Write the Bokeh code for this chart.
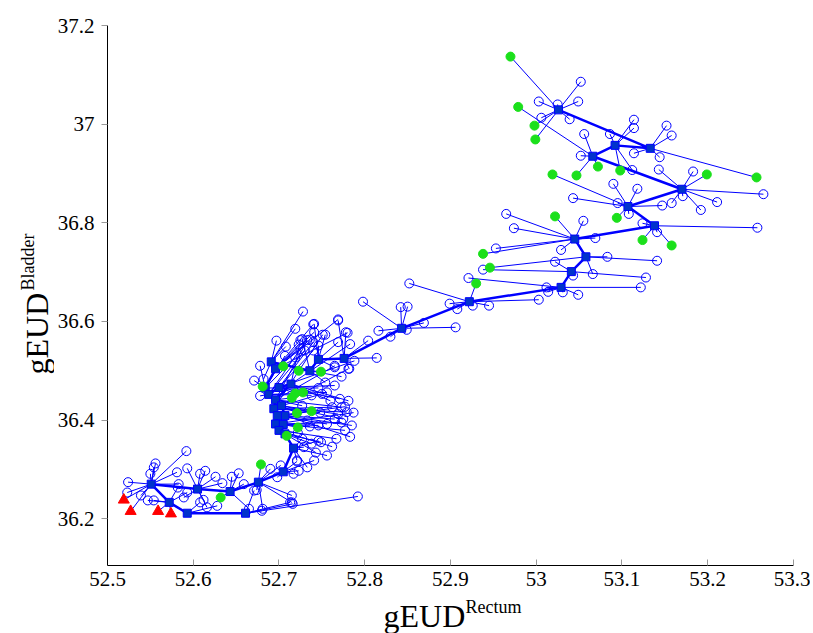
import math
from bokeh.plotting import figure
from bokeh.models import FixedTicker, Label
from bokeh.layouts import row, column
from bokeh.embed import file_html
from bokeh.resources import INLINE

# ---------------- data ----------------
x_ticks = [52.5, 52.6, 52.7, 52.8, 52.9, 53.0, 53.1, 53.2, 53.3]
x_tick_labels = ["52.5", "52.6", "52.7", "52.8", "52.9", "53", "53.1", "53.2", "53.3"]
y_ticks = [36.2, 36.4, 36.6, 36.8, 37.0, 37.2]
y_tick_labels = ["36.2", "36.4", "36.6", "36.8", "37", "37.2"]

# main path (filled squares)
path_x = [53.026, 53.133, 53.092, 53.066, 53.170, 53.107, 53.138, 53.045, 53.058, 53.041,
          53.029, 52.922, 52.843, 52.776, 52.746, 52.736, 52.691, 52.696, 52.684, 52.688,
          52.700, 52.714, 52.696, 52.694, 52.703, 52.707, 52.698, 52.696, 52.705, 52.700,
          52.707, 52.717, 52.705, 52.676, 52.643, 52.605, 52.551, 52.572, 52.593, 52.661]
path_y = [37.029, 36.951, 36.957, 36.935, 36.868, 36.833, 36.794, 36.767, 36.731, 36.701,
          36.669, 36.640, 36.586, 36.525, 36.523, 36.500, 36.518, 36.504, 36.465, 36.452,
          36.466, 36.473, 36.441, 36.423, 36.429, 36.409, 36.409, 36.392, 36.391, 36.379,
          36.372, 36.343, 36.295, 36.274, 36.255, 36.260, 36.270, 36.233, 36.211, 36.211]

# open candidate points (node index they hang from)
open_node = [0, 0, 0, 0, 0, 0,
             1, 1, 1, 1,
             2, 2, 2, 2,
             3, 3,
             4, 4, 4, 4, 4, 4, 4,
             5, 5, 5, 5, 5, 5,
             6, 6, 6,
             7, 7, 7, 7, 7, 7,
             8, 8, 8,
             9, 9, 9, 9,
             10, 10, 10, 10, 10, 10,
             11, 11, 11, 11, 11, 11,
             12, 12, 12, 12, 12, 12, 12, 12,
             13, 13, 13, 13, 13,
             14, 14, 14, 14, 14,
             15, 15, 15,
             16, 16, 16, 16, 16,
             17, 17, 17, 17, 17, 17,
             18, 18, 18, 18, 18,
             19, 19, 19, 19, 19,
             20, 20, 20, 20, 20,
             21, 21, 21, 21,
             22, 22, 22, 22,
             23, 23, 23, 23, 23,
             24, 24, 24,
             25, 25, 25,
             26, 26, 26,
             27, 27, 27,
             28, 28,
             29, 29, 29,
             30, 30, 30,
             31, 31, 31, 31, 31, 31,
             32, 32, 32, 32, 32,
             33, 33, 33, 33, 33, 33,
             34, 34, 34, 34,
             35, 35, 35, 35, 35, 35, 35, 35,
             36, 36, 36, 36, 36, 36, 36, 36, 36,
             37, 37, 37, 37,
             38, 38,
             39, 39, 39, 39, 39]
open_x = [53.052, 53.049, 53.003, 53.025, 53.006, 53.039,
          53.152, 53.158, 53.144, 53.114,
          53.114, 53.114, 53.086, 53.112,
          53.056, 53.052,
          53.183, 53.143, 53.265, 53.211, 53.192, 53.158, 53.171,
          53.090, 53.118, 53.095, 53.043, 53.108, 53.147,
          53.124, 53.141, 53.258,
          52.965, 53.055, 52.974, 53.069, 53.029, 52.953,
          53.083, 53.141, 53.066,
          53.022, 53.128, 52.938, 53.043,
          53.122, 53.012, 53.014, 53.031, 53.049, 52.921,
          52.899, 52.908, 52.926, 52.945, 53.003, 52.852,
          52.798, 52.842, 52.850, 52.869, 52.906, 52.849, 52.830, 52.816,
          52.814, 52.782, 52.769, 52.778, 52.804,
          52.754, 52.741, 52.769, 52.765, 52.746,
          52.773, 52.754, 52.727,
          52.728, 52.719, 52.697, 52.708, 52.682,
          52.723, 52.736, 52.741, 52.740, 52.780, 52.769,
          52.671, 52.707, 52.746, 52.719, 52.678,
          52.678, 52.756, 52.730, 52.738, 52.725,
          52.765, 52.771, 52.740, 52.740, 52.788,
          52.781, 52.760, 52.725, 52.783,
          52.773, 52.727, 52.765, 52.733,
          52.762, 52.779, 52.748, 52.781, 52.751,
          52.769, 52.775, 52.750,
          52.765, 52.785, 52.783,
          52.756, 52.733, 52.777,
          52.746, 52.773, 52.787,
          52.736, 52.777,
          52.767, 52.722, 52.762,
          52.749, 52.738, 52.743,
          52.729, 52.746, 52.727, 52.721, 52.733, 52.756,
          52.721, 52.717, 52.698, 52.723, 52.741,
          52.690, 52.702, 52.674, 52.681, 52.715, 52.715,
          52.653, 52.645, 52.659, 52.665,
          52.614, 52.608, 52.593, 52.626, 52.634, 52.612, 52.616, 52.589,
          52.592, 52.556, 52.554, 52.550, 52.524, 52.523, 52.539, 52.581, 52.583,
          52.554, 52.582, 52.547, 52.593,
          52.608, 52.628,
          52.792, 52.713, 52.671, 52.680, 52.716]
open_y = [37.086, 37.046, 37.046, 37.040, 37.013, 37.010,
          36.997, 36.977, 36.933, 36.941,
          37.009, 36.992, 36.980, 36.907,
          36.980, 36.936,
          36.904, 36.908, 36.858, 36.842, 36.826, 36.840, 36.854,
          36.879, 36.869, 36.840, 36.850, 36.818, 36.835,
          36.799, 36.781, 36.790,
          36.818, 36.804, 36.789, 36.769, 36.745, 36.748,
          36.731, 36.723, 36.696,
          36.721, 36.689, 36.705, 36.693,
          36.669, 36.669, 36.660, 36.659, 36.654, 36.688,
          36.636, 36.625, 36.632, 36.632, 36.644, 36.677,
          36.640, 36.629, 36.630, 36.597, 36.588, 36.583, 36.569, 36.581,
          36.526, 36.504, 36.602, 36.578, 36.561,
          36.573, 36.595, 36.558, 36.507, 36.551,
          36.488, 36.476, 36.564,
          36.620, 36.585, 36.561, 36.549, 36.483,
          36.553, 36.563, 36.578, 36.594, 36.577, 36.604,
          36.480, 36.530, 36.465, 36.527, 36.510,
          36.449, 36.456, 36.541, 36.450, 36.544,
          36.470, 36.443, 36.558, 36.541, 36.520,
          36.439, 36.439, 36.562, 36.554,
          36.426, 36.429, 36.510, 36.562,
          36.426, 36.416, 36.415, 36.504, 36.573,
          36.412, 36.402, 36.453,
          36.402, 36.389, 36.366,
          36.392, 36.399, 36.427,
          36.389, 36.395, 36.415,
          36.387, 36.379,
          36.362, 36.374, 36.346,
          36.355, 36.352, 36.334,
          36.345, 36.358, 36.362, 36.318, 36.304, 36.328,
          36.316, 36.291, 36.284, 36.297, 36.318,
          36.301, 36.308, 36.258, 36.220, 36.233, 36.247,
          36.292, 36.285, 36.270, 36.220,
          36.297, 36.291, 36.302, 36.285, 36.272, 36.238, 36.223, 36.243,
          36.337, 36.312, 36.304, 36.291, 36.274, 36.253, 36.247, 36.294, 36.270,
          36.237, 36.263, 36.237, 36.253,
          36.233, 36.226,
          36.245, 36.233, 36.257, 36.216, 36.230]

# green (filled) candidate points
green_node = [0, 0, 0, 1, 2, 3, 3, 3, 4, 5, 5, 6, 6, 7, 7, 8, 11, 15, 15, 16,
              18, 20, 21, 22, 24, 25, 28, 30, 33, 34]
green_x = [52.970, 52.998, 52.999, 53.257, 53.098, 52.979, 53.047, 53.072, 53.199, 53.094,
           53.019, 53.124, 53.158, 53.022, 52.938, 52.946, 52.930, 52.749, 52.723, 52.705,
           52.681, 52.719, 52.728, 52.715, 52.721, 52.738, 52.722, 52.709, 52.679, 52.632]
green_y = [37.137, 36.997, 36.969, 36.892, 36.906, 37.035, 36.896, 36.914, 36.898, 36.810,
           36.898, 36.765, 36.754, 36.813, 36.737, 36.709, 36.677, 36.498, 36.500, 36.509,
           36.468, 36.454, 36.456, 36.445, 36.414, 36.418, 36.385, 36.368, 36.310, 36.243]

# red triangles
red_node = [36, 36, 37, 37]
red_x = [52.519, 52.527, 52.559, 52.574]
red_y = [36.238, 36.215, 36.215, 36.210]

# axis titles (main text + superscript)
x_title, x_title_sup = "gEUD", "Rectum"
y_title, y_title_sup = "gEUD", "Bladder"

# ---------------- styling ----------------
BLUE = "#0000ff"
SQUARE = "#0033cc"
GREEN = "#1be01b"
RED = "#ff0000"
FONT = "Liberation Serif"

YLAB_W = 54          # strip holding the rotated y title
MAIN_W, MAIN_H = 756, 597
XLAB_H = 36          # strip holding the x title
TOTAL_H = MAIN_H + XLAB_H

p = figure(width=MAIN_W, height=MAIN_H, x_range=(52.5, 53.3001), y_range=(36.105, 37.2001),
           output_backend="svg", toolbar_location=None,
           min_border_left=51, min_border_right=17, min_border_top=25, min_border_bottom=32)
p.outline_line_color = None
p.grid.visible = False

for ax, ticks, labels in ((p.xaxis, x_ticks, x_tick_labels), (p.yaxis, y_ticks, y_tick_labels)):
    ax.ticker = FixedTicker(ticks=ticks)
    ax.major_label_overrides = dict(zip(ticks, labels))
    ax.minor_tick_line_color = None
    ax.major_tick_line_color = "#999999"
    ax.axis_line_color = "black"
    ax.major_label_text_font = FONT
    ax.major_label_text_font_size = "21px"
    ax.major_label_text_color = "black"

p.xaxis.major_tick_in = 6
p.xaxis.major_tick_out = 0
p.xaxis.major_label_standoff = 6
p.yaxis.major_tick_in = 0
p.yaxis.major_tick_out = 6
p.yaxis.major_label_standoff = 7

# spokes
all_node = open_node + green_node + red_node
x1 = open_x + green_x + red_x
y1 = open_y + green_y + red_y
x0 = [path_x[i] for i in all_node]
y0 = [path_y[i] for i in all_node]
p.segment(x0=x0, y0=y0, x1=x1, y1=y1, line_color=BLUE, line_width=1)

# main path
p.line(path_x, path_y, line_color=BLUE, line_width=2.5)

p.scatter(open_x, open_y, marker="circle", size=9, fill_color=None,
          line_color=BLUE, line_width=1)
p.scatter(path_x, path_y, marker="square", size=8, fill_color=SQUARE, line_color=BLUE)
p.scatter(green_x, green_y, marker="circle", size=9, fill_color=GREEN, line_color=GREEN)
p.scatter(red_x, red_y, marker="triangle", size=11, fill_color=RED, line_color=RED)


def strip(w, h):
    f = figure(width=w, height=h, x_range=(0, w), y_range=(0, h), output_backend="svg",
               toolbar_location=None, x_axis_location=None, y_axis_location=None,
               min_border=0, min_border_left=0, min_border_right=0,
               min_border_top=0, min_border_bottom=0)
    f.outline_line_color = None
    f.grid.visible = False
    return f


def title(x, y, text, size, angle=0.0):
    # screen offsets measured from the strip frame's bottom-left corner
    return Label(x=x, y=y, x_units="screen", y_units="screen", text=text, angle=angle,
                 text_font=FONT, text_font_size=size, text_align="left",
                 text_baseline="middle", text_color="black")


# x title strip (below the main plot; its frame lines up with the main frame)
xl = strip(MAIN_W, XLAB_H)
xl.add_layout(title(276, 18, x_title, "32px"))
xl.add_layout(title(358, 27, x_title_sup, "18px"))

# y title strip (left of the main plot)
yl = strip(YLAB_W, TOTAL_H)
yl.add_layout(title(36, 259, y_title, "32px", math.pi / 2))
yl.add_layout(title(27, 343, y_title_sup, "18px", math.pi / 2))

layout = row(yl, column(p, xl, spacing=0), spacing=0)
open("out.html", "w").write(file_html(layout, INLINE))
